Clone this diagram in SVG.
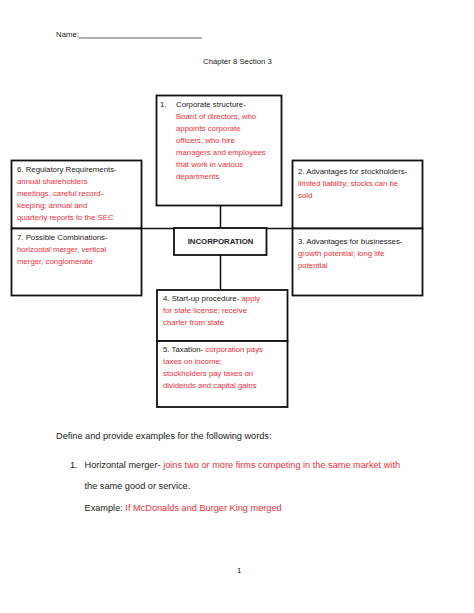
<svg xmlns="http://www.w3.org/2000/svg" width="474" height="613" viewBox="0 0 474 613">
<style>
.bx{fill:#fff;stroke:#111;stroke-width:1.8}
.ln{stroke:#111;stroke-width:1.5;fill:none}
.t{font-family:"Liberation Sans",Arial,sans-serif;font-size:7.8px;fill:#222}
.r{fill:#f0303a}
.b{font-weight:bold}
.q{font-family:"Liberation Sans",Arial,sans-serif;font-size:9.2px;fill:#222}
</style>
<rect width="474" height="613" fill="#fff"/>
<g id="header">
<text class="t" x="56" y="37">Name:</text>
<line x1="79" y1="38" x2="202" y2="38" stroke="#222" stroke-width="0.7"/>
<text class="t" x="203" y="64">Chapter 8 Section 3</text>
</g>
<g id="connectors">
<line class="ln" x1="142" y1="228.5" x2="292" y2="228.5"/>
<line class="ln" x1="220.5" y1="206" x2="220.5" y2="228"/>
<line class="ln" x1="220.5" y1="255" x2="220.5" y2="290"/>
</g>
<g id="box1">
<rect class="bx" x="156.5" y="95.5" width="125" height="110"/>
<text class="t" x="160" y="107">1.</text>
<text class="t" x="176" y="107">Corporate structure-</text>
<text class="t r" x="176" y="119">Board of directors, who</text>
<text class="t r" x="176" y="131">appoints corporate</text>
<text class="t r" x="176" y="143">officers, who hire</text>
<text class="t r" x="176" y="155">managers and employees</text>
<text class="t r" x="176" y="167">that work in various</text>
<text class="t r" x="176" y="179">departments</text>
</g>
<g id="box6">
<rect class="bx" x="11.5" y="160.5" width="130" height="68"/>
<text class="t" x="17" y="172">6. Regulatory Requirements-</text>
<text class="t r" x="17" y="184">annual shareholders</text>
<text class="t r" x="17" y="196">meetings, careful record-</text>
<text class="t r" x="17" y="208">keeping; annual and</text>
<text class="t r" x="17" y="220">quarterly reports to the SEC</text>
</g>
<g id="box7">
<rect class="bx" x="11.5" y="228.5" width="130" height="67"/>
<text class="t" x="17" y="240">7. Possible Combinations-</text>
<text class="t r" x="17" y="252">horizontal merger, vertical</text>
<text class="t r" x="17" y="264">merger, conglomerate</text>
</g>
<g id="box2">
<rect class="bx" x="292.5" y="160.5" width="130" height="68"/>
<text class="t" x="298" y="173.5">2. Advantages for stockholders-</text>
<text class="t r" x="298" y="185.5">limited liability; stocks can be</text>
<text class="t r" x="298" y="197.5">sold</text>
</g>
<g id="box3">
<rect class="bx" x="292.5" y="228.5" width="130" height="67"/>
<text class="t" x="298" y="243.5">3. Advantages for businesses-</text>
<text class="t r" x="298" y="255.5">growth potential; long life</text>
<text class="t r" x="298" y="267.5">potential</text>
</g>
<g id="incorporation">
<rect class="bx" x="174" y="228" width="92.5" height="27"/>
<text class="t b" x="220.5" y="243.5" text-anchor="middle" font-size="7.4">INCORPORATION</text>
</g>
<g id="box4">
<rect class="bx" x="157" y="290" width="130.5" height="51"/>
<text class="t" x="163" y="301">4. Start-up procedure- <tspan class="r">apply</tspan></text>
<text class="t r" x="163" y="313">for state license; receive</text>
<text class="t r" x="163" y="325">charter from state</text>
</g>
<g id="box5">
<rect class="bx" x="157" y="341" width="130.5" height="66"/>
<text class="t" x="163" y="352">5. Taxation- <tspan class="r">corporation pays</tspan></text>
<text class="t r" x="163" y="364">taxes on income;</text>
<text class="t r" x="163" y="376">stockholders pay taxes on</text>
<text class="t r" x="163" y="388">dividends and capital gains</text>
</g>
<g id="questions">
<text class="q" x="56" y="439">Define and provide examples for the following words:</text>
<text class="q" x="70" y="468">1.</text>
<text class="q" x="84.5" y="468">Horizontal merger- <tspan class="r">joins two or more firms competing in the same market with</tspan></text>
<text class="q r" x="84.5" y="489">the same good or service.</text>
<text class="q" x="84.5" y="511">Example: <tspan class="r">If McDonalds and Burger King merged</tspan></text>
<text class="t" x="237" y="573">1</text>
</g>
</svg>
